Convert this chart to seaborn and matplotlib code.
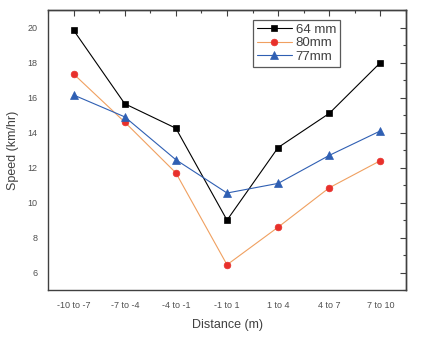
import matplotlib
matplotlib.use("Agg")
import matplotlib.pyplot as plt
import seaborn as sns
import pandas as pd
from matplotlib.ticker import MultipleLocator, NullFormatter

categories = ["-10 to -7", "-7 to -4", "-4 to -1", "-1 to 1", "1 to 4", "4 to 7", "7 to 10"]
s64 = [19.85, 15.65, 14.25, 9.0, 13.15, 15.1, 18.0]
s80 = [17.35, 14.6, 11.7, 6.45, 8.6, 10.85, 12.4]
s77 = [16.15, 14.9, 12.45, 10.55, 11.1, 12.7, 14.1]
series_names = ["64 mm", "80mm", "77mm"]

sns.set_theme(style="white")
plt.rcParams['font.family'] = ['Liberation Sans', 'DejaVu Sans']

rows = []
for name, vals in zip(series_names, [s64, s80, s77]):
    for i, (c, v) in enumerate(zip(categories, vals)):
        rows.append({"pos": i, "cat": c, "speed": v, "series": name})
df = pd.DataFrame(rows)

fig = plt.figure(figsize=(4.37, 3.37), dpi=100)
ax = fig.add_axes([0.11, 0.139, 0.819, 0.831])

styles = {
    "64 mm": dict(color="black", marker="s", mfc="black", mec="black", ms=4.6),
    "80mm": dict(color="#f0a060", marker="o", mfc="#e8302b", mec="#e8302b", ms=4.8),
    "77mm": dict(color="#2f5fb3", marker="^", mfc="#2f5fb3", mec="#2f5fb3", ms=5.5),
}
for name in series_names:
    st = styles[name]
    sub = df[df.series == name]
    sns.lineplot(data=sub, x="pos", y="speed", ax=ax, color=st["color"], lw=0.8,
                 marker=st["marker"], markersize=st["ms"], markerfacecolor=st["mfc"],
                 markeredgecolor=st["mec"], markeredgewidth=0.5, label=name, sort=False)

ax.set_xlim(-0.5, 6.5)
ax.set_ylim(5, 21)
ax.set_xticks(range(len(categories)))
ax.set_xticklabels(categories)
ax.xaxis.set_minor_locator(MultipleLocator(0.5))
ax.set_yticks([6, 8, 10, 12, 14, 16, 18, 20])
ax.yaxis.set_minor_locator(MultipleLocator(1))
ax.tick_params(axis="both", which="both", direction="out", colors="#404040",
               labelsize=6.5, labelcolor="#505050")
ax.tick_params(which="major", length=4, width=0.8)
ax.tick_params(which="minor", length=2.5, width=0.8)
ax.tick_params(axis="x", which="both", pad=4)

# mirrored inward ticks on top and right
top = ax.secondary_xaxis("top")
top.set_xticks(range(len(categories)))
top.xaxis.set_minor_locator(MultipleLocator(0.5))
top.xaxis.set_major_formatter(NullFormatter())
top.tick_params(which="both", direction="in", colors="#404040", width=0.8)
top.tick_params(which="major", length=4)
top.tick_params(which="minor", length=2.5)
right = ax.secondary_yaxis("right")
right.set_yticks([6, 8, 10, 12, 14, 16, 18, 20])
right.yaxis.set_minor_locator(MultipleLocator(1))
right.yaxis.set_major_formatter(NullFormatter())
right.tick_params(which="both", direction="in", colors="#404040", width=0.8)
right.tick_params(which="major", length=4)
right.tick_params(which="minor", length=2.5)
for a in (top, right):
    for sp in a.spines.values():
        sp.set_color("#404040")
        sp.set_linewidth(1.0)

for sp in ax.spines.values():
    sp.set_color("#404040")
    sp.set_linewidth(1.0)
ax.set_xlabel("Distance (m)", fontsize=9, color="#404040", labelpad=6)
ax.set_ylabel("Speed (km/hr)", fontsize=9, color="#404040", labelpad=6)

leg = ax.legend(loc="upper left", bbox_to_anchor=(0.555, 0.99), fontsize=9.5,
                frameon=True, fancybox=False, edgecolor="#303030", handlelength=2.6,
                borderpad=0.3, labelspacing=0.1, handletextpad=0.3)
leg.get_frame().set_linewidth(0.9)
for t in leg.get_texts():
    t.set_color("#404040")

fig.savefig("out.png", dpi=100, facecolor="white")
